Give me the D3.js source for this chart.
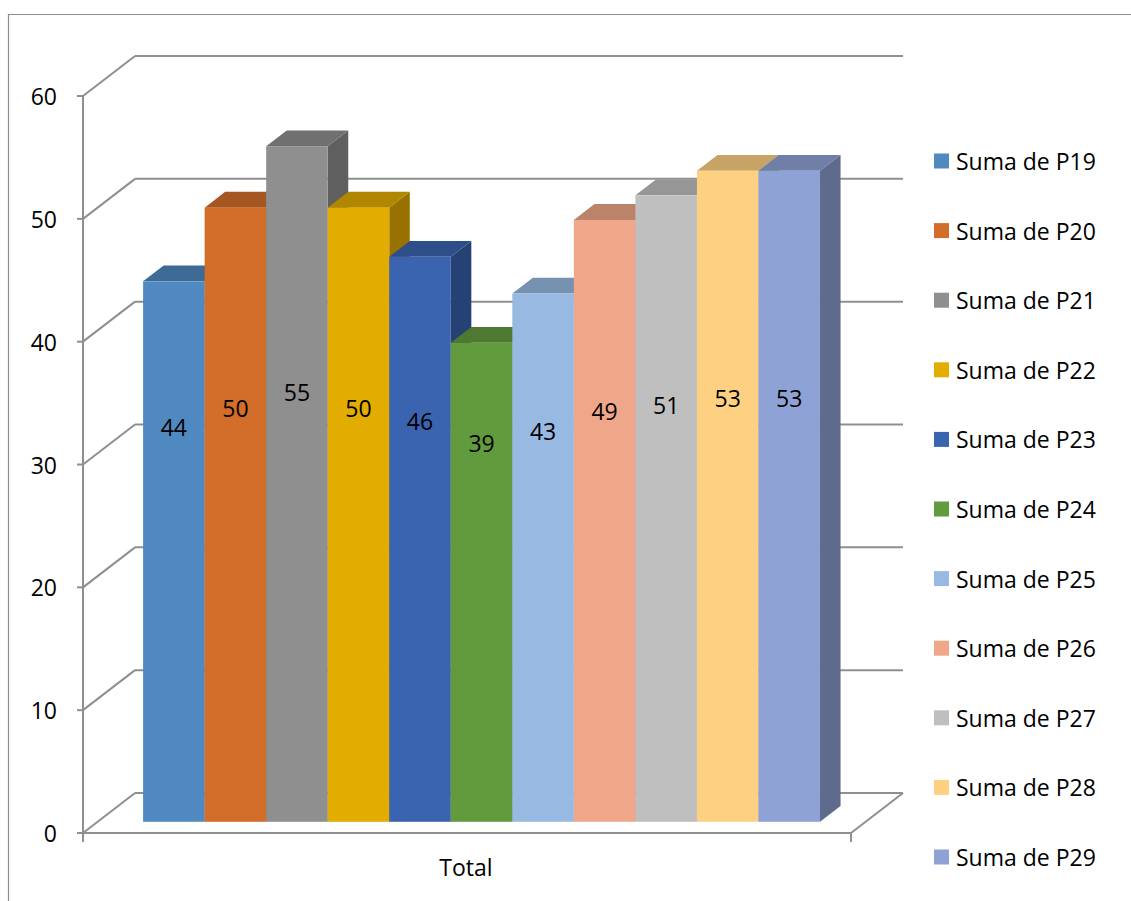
<!DOCTYPE html>
<html>
<head>
<meta charset="utf-8">
<script src="https://cdn.jsdelivr.net/npm/d3@7/dist/d3.min.js"></script>
<style>
  html, body { margin: 0; padding: 0; background: #fff; }
  svg { display: block; }
  text { font-family: "Open Sans", "Noto Sans", sans-serif; fill: #000; }
</style>
</head>
<body>
<svg id="chart" width="1131" height="901"></svg>
<script>
// Series and values
const series = ["Suma de P19", "Suma de P20", "Suma de P21", "Suma de P22", "Suma de P23",
                "Suma de P24", "Suma de P25", "Suma de P26", "Suma de P27", "Suma de P28", "Suma de P29"];
const values = [44, 50, 55, 50, 46, 39, 43, 49, 51, 53, 53];
const colors = ["#4F89BF", "#D36D2A", "#8F8F8F", "#E3AC00", "#3A64AF", "#629A3E",
                "#98B9E2", "#F0A789", "#BFBFBF", "#FED182", "#8EA2D5"];
const yTicks = [0, 10, 20, 30, 40, 50, 60];
const categoryLabel = "Total";

const svg = d3.select("#chart");

// Oblique 3D projection: the full floor depth shifts points right and up
const depthX = 52, depthY = -40;
const barFront = 0.28, barDepth = 0.395;   // fractions of full depth

const x0 = 83, x1 = 851;
const y = d3.scaleLinear().domain([0, 60]).range([833, 96]);
const xb = d3.scaleBand().domain(series).range([x0, x1]).paddingInner(0).paddingOuter(0.74);

const lineColor = "#8f8f8f";

// Chart-area border
svg.append("path")
  .attr("d", "M8.5,901 V14.5 H1131")
  .attr("fill", "none").attr("stroke", "#8c8c8c").attr("stroke-width", 1.2);

const grid = svg.append("g").attr("fill", "none").attr("stroke", lineColor).attr("stroke-width", 2);

// Back wall gridlines and side wall diagonals
yTicks.forEach(t => {
  const yf = y(t);
  grid.append("line")
    .attr("x1", x0 + depthX).attr("y1", yf + depthY)
    .attr("x2", x1 + depthX).attr("y2", yf + depthY);
  grid.append("line")
    .attr("x1", x0).attr("y1", yf)
    .attr("x2", x0 + depthX).attr("y2", yf + depthY);
});

// Floor: front edge and right edge
grid.append("line").attr("x1", x0 - 6).attr("y1", y(0)).attr("x2", x1).attr("y2", y(0));
grid.append("line").attr("x1", x1).attr("y1", y(0)).attr("x2", x1 + depthX).attr("y2", y(0) + depthY);
grid.append("line").attr("x1", x1).attr("y1", y(0)).attr("x2", x1).attr("y2", y(0) + 9);

// Value axis line and ticks
grid.append("line").attr("x1", x0).attr("y1", y(60)).attr("x2", x0).attr("y2", y(0) + 9);
yTicks.forEach(t => {
  grid.append("line").attr("x1", x0 - 6).attr("y1", y(t)).attr("x2", x0).attr("y2", y(t));
});

// Value axis labels
svg.append("g").selectAll("text").data(yTicks).join("text")
  .attr("x", 57).attr("y", d => y(d))
  .attr("text-anchor", "end").attr("dominant-baseline", "central")
  .attr("font-size", 23)
  .text(d => d);

// Bars, drawn left to right so each hides the previous side face
const fdx = depthX * barFront, fdy = depthY * barFront;
const ddx = depthX * barDepth, ddy = depthY * barDepth;
const w = xb.bandwidth();

const bars = svg.append("g").selectAll("g").data(series).join("g");
bars.each(function(s, i) {
  const g = d3.select(this);
  const v = values[i];
  const c = d3.color(colors[i]);
  const L = xb(s) + fdx, R = L + w;
  const T = y(v) + fdy, B = y(0) + fdy;
  // side face
  g.append("path")
    .attr("d", `M${R},${T} L${R + ddx},${T + ddy} L${R + ddx},${B + ddy} L${R},${B} Z`)
    .attr("fill", c.darker(1.15));
  // top face
  g.append("path")
    .attr("d", `M${L},${T} L${L + ddx},${T + ddy} L${R + ddx},${T + ddy} L${R},${T} Z`)
    .attr("fill", c.darker(0.68));
  // front face
  g.append("rect")
    .attr("x", L).attr("y", T).attr("width", w).attr("height", B - T)
    .attr("fill", c);
});

// Data labels
svg.append("g").selectAll("text").data(series).join("text")
  .attr("x", s => xb(s) + fdx + w / 2)
  .attr("y", (s, i) => y(20.65 + 0.2606 * values[i]) + fdy)
  .attr("text-anchor", "middle").attr("dominant-baseline", "central")
  .attr("font-size", 23)
  .text((s, i) => values[i]);

// Category label
svg.append("text")
  .attr("x", 466).attr("y", 867)
  .attr("text-anchor", "middle").attr("dominant-baseline", "central")
  .attr("font-size", 23)
  .text(categoryLabel);

// Legend
const ly = d3.scalePoint().domain(series).range([161, 857]);
const legend = svg.append("g").selectAll("g").data(series).join("g")
  .attr("transform", s => `translate(934,${ly(s)})`);
legend.append("rect")
  .attr("x", 0).attr("y", -7.5).attr("width", 15).attr("height", 15)
  .attr("fill", (s, i) => colors[i]);
legend.append("text")
  .attr("x", 22).attr("y", 0)
  .attr("dominant-baseline", "central")
  .attr("font-size", 23)
  .text(s => s);
</script>
</body>
</html>
